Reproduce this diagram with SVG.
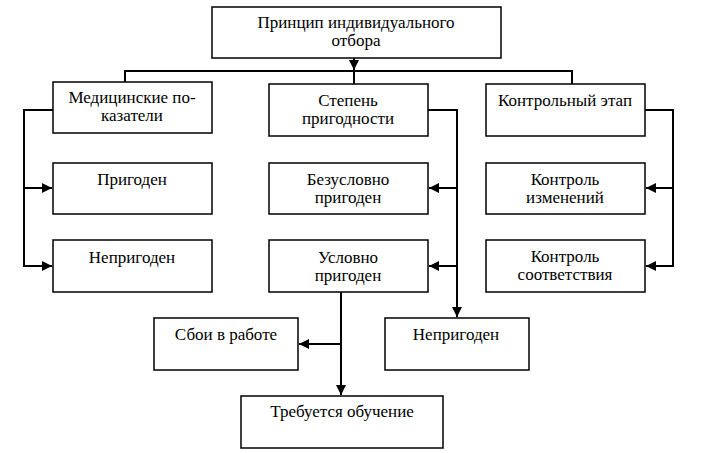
<svg xmlns="http://www.w3.org/2000/svg" width="711" height="453" viewBox="0 0 711 453">
<defs>
<style>
.box{fill:#fff;stroke:#000;stroke-width:1.5}
.t{font-family:'Liberation Serif','Times New Roman',serif;font-size:17px;fill:#000;text-anchor:middle}
.c{fill:none;stroke:#000;stroke-width:2}
</style>
<marker id="ah" markerUnits="userSpaceOnUse" markerWidth="12" markerHeight="10" refX="10" refY="5" orient="auto">
<path d="M0,0 L10,5 L0,10 Z" fill="#000"/>
</marker>
</defs>
<rect width="711" height="453" fill="#fff"/>
<g id="connectors">
<path class="c" d="M354,58 V70" marker-end="url(#ah)"/>
<path class="c" d="M125,82 V71 H572 V84"/>
<path class="c" d="M354,71 V84"/>
<path class="c" d="M53,110 H24 V266 H52" marker-end="url(#ah)"/>
<path class="c" d="M24,188 H52" marker-end="url(#ah)"/>
<path class="c" d="M428,110 H457 V317" marker-end="url(#ah)"/>
<path class="c" d="M457,188 H429" marker-end="url(#ah)"/>
<path class="c" d="M457,266 H429" marker-end="url(#ah)"/>
<path class="c" d="M645,110 H673 V266 H646" marker-end="url(#ah)"/>
<path class="c" d="M673,188 H646" marker-end="url(#ah)"/>
<path class="c" d="M341,292 V395" marker-end="url(#ah)"/>
<path class="c" d="M341,344 H299" marker-end="url(#ah)"/>
</g>
<g id="root"><rect class="box" x="212" y="7" width="289" height="51"/><text class="t" x="356" y="28">Принцип индивидуального</text><text class="t" x="356" y="46">отбора</text></g>
<g id="med"><rect class="box" x="53" y="82" width="159" height="51"/><text class="t" x="132" y="103">Медицинские по-</text><text class="t" x="132" y="121">казатели</text></g>
<g id="stepen"><rect class="box" x="269" y="84" width="159" height="52"/><text class="t" x="348" y="106">Степень</text><text class="t" x="348" y="124">пригодности</text></g>
<g id="kontrol"><rect class="box" x="486" y="84" width="159" height="52"/><text class="t" x="565" y="106">Контрольный этап</text></g>
<g id="prigoden"><rect class="box" x="53" y="163" width="159" height="51"/><text class="t" x="132" y="185">Пригоден</text></g>
<g id="bezusl"><rect class="box" x="269" y="163" width="159" height="51"/><text class="t" x="348" y="185">Безусловно</text><text class="t" x="348" y="203">пригоден</text></g>
<g id="izmen"><rect class="box" x="486" y="163" width="159" height="51"/><text class="t" x="565" y="185">Контроль</text><text class="t" x="565" y="203">изменений</text></g>
<g id="neprig1"><rect class="box" x="53" y="240" width="159" height="52"/><text class="t" x="132" y="263">Непригоден</text></g>
<g id="uslovno"><rect class="box" x="269" y="240" width="159" height="52"/><text class="t" x="348" y="263">Условно</text><text class="t" x="348" y="281">пригоден</text></g>
<g id="sootv"><rect class="box" x="486" y="240" width="159" height="52"/><text class="t" x="565" y="262">Контроль</text><text class="t" x="565" y="280">соответствия</text></g>
<g id="sboi"><rect class="box" x="154" y="318" width="144" height="52"/><text class="t" x="226" y="340">Сбои в работе</text></g>
<g id="neprig2"><rect class="box" x="385" y="318" width="144" height="52"/><text class="t" x="456" y="340">Непригоден</text></g>
<g id="obuch"><rect class="box" x="241" y="396" width="202" height="52"/><text class="t" x="342" y="417">Требуется обучение</text></g>
</svg>
